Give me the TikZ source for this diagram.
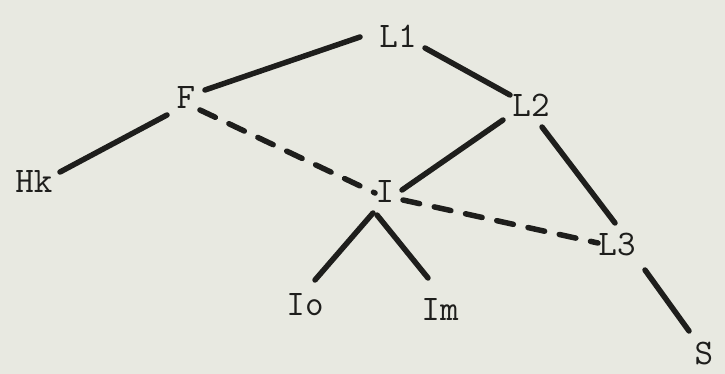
\documentclass[tikz,border=0pt]{standalone}
\usepackage{fontspec}
\definecolor{paper}{RGB}{232,233,225}
\definecolor{ink}{RGB}{30,30,28}
\begin{document}
\begin{tikzpicture}[x=1pt,y=-1pt,
  lbl/.style={inner sep=0pt,text=ink,font=\ttfamily\fontsize{36}{36}\selectfont},
  edge/.style={draw=ink,line width=5.5pt,line cap=round},
  dashedge/.style={edge,dash pattern=on 17pt off 15pt}]
\fill[paper] (0,0) rectangle (725,374);
\useasboundingbox (0,0) rectangle (725,374);
\node[lbl] (L1) at (398,36) {L1};
\node[lbl] (F) at (186,98) {F};
\node[lbl] (L2) at (531,105) {L2};
\node[lbl] (Hk) at (34,182) {Hk};
\node[lbl] (I) at (385,192) {I};
\node[lbl] (L3) at (617,245) {L3};
\node[lbl] (Io) at (305,305) {Io};
\node[lbl] (Im) at (440,309) {Im};
\node[lbl] (S) at (704,353) {S};
\draw[edge] ([shift={(19,-8)}]F.center) -- ([shift={(-38,1)}]L1.center);
\draw[edge] ([shift={(27,12)}]L1.center) -- ([shift={(-21,-10)}]L2.center);
\draw[edge] ([shift={(-19,17)}]F.center) -- ([shift={(26,-10)}]Hk.center);
\draw[dashedge] ([shift={(14,12)}]F.center) -- ([shift={(-10,1)}]I.center);
\draw[edge] ([shift={(-28,15)}]L2.center) -- ([shift={(17,-2)}]I.center);
\draw[dashedge] ([shift={(18,8)}]I.center) -- ([shift={(-19,-2)}]L3.center);
\draw[edge] ([shift={(11,22)}]L2.center) -- ([shift={(-2,-22)}]L3.center);
\draw[edge] ([shift={(28,25)}]L3.center) -- ([shift={(-15,-22)}]S.center);
\draw[edge] ([shift={(-12,21)}]I.center) -- ([shift={(10,-25)}]Io.center);
\draw[edge] ([shift={(-8,23)}]I.center) -- ([shift={(-12,-31)}]Im.center);
\end{tikzpicture}
\end{document}
